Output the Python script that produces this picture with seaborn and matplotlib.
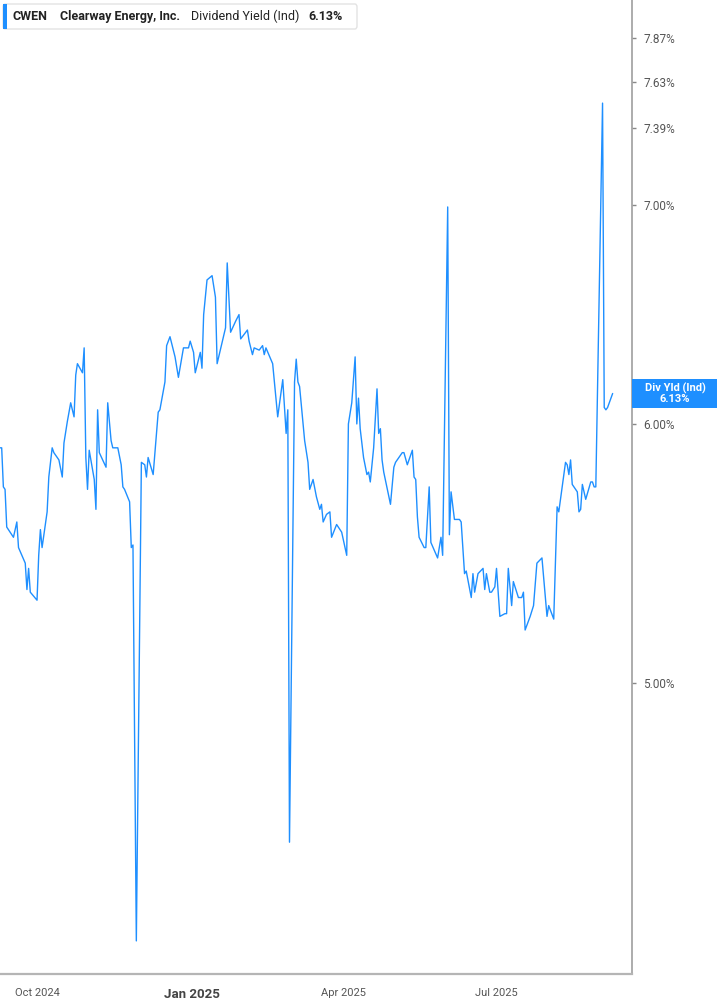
import pandas as pd
import seaborn as sns
import matplotlib.pyplot as plt
import matplotlib.patches as mpatches
from matplotlib.ticker import NullLocator

# DATA
dates = [
    "2024-09-09", "2024-09-10", "2024-09-11", "2024-09-12", "2024-09-13", "2024-09-17", "2024-09-19",
    "2024-09-20", "2024-09-24", "2024-09-25", "2024-09-26", "2024-09-27", "2024-10-01", "2024-10-02",
    "2024-10-03", "2024-10-04", "2024-10-07", "2024-10-08", "2024-10-10", "2024-10-11", "2024-10-14",
    "2024-10-16", "2024-10-17", "2024-10-19", "2024-10-21", "2024-10-23", "2024-10-24", "2024-10-25",
    "2024-10-28", "2024-10-29", "2024-10-30", "2024-10-31", "2024-11-01", "2024-11-04", "2024-11-05",
    "2024-11-06", "2024-11-07", "2024-11-11", "2024-11-12", "2024-11-14", "2024-11-15", "2024-11-18",
    "2024-11-20", "2024-11-21", "2024-11-22", "2024-11-25", "2024-11-26", "2024-11-27", "2024-11-29",
    "2024-12-02", "2024-12-04", "2024-12-05", "2024-12-06", "2024-12-09", "2024-12-12", "2024-12-13",
    "2024-12-16", "2024-12-17", "2024-12-19", "2024-12-22", "2024-12-24", "2024-12-27", "2024-12-30",
    "2024-12-31", "2025-01-02", "2025-01-03", "2025-01-06", "2025-01-07", "2025-01-08", "2025-01-10",
    "2025-01-13", "2025-01-15", "2025-01-16", "2025-01-21", "2025-01-22", "2025-01-24", "2025-01-27",
    "2025-01-29", "2025-01-30", "2025-02-03", "2025-02-04", "2025-02-06", "2025-02-07", "2025-02-10",
    "2025-02-12", "2025-02-13", "2025-02-14", "2025-02-18", "2025-02-21", "2025-02-24", "2025-02-26",
    "2025-02-27", "2025-02-28", "2025-03-03", "2025-03-04", "2025-03-05", "2025-03-06", "2025-03-09",
    "2025-03-11", "2025-03-12", "2025-03-14", "2025-03-16", "2025-03-18", "2025-03-19", "2025-03-20",
    "2025-03-22", "2025-03-24", "2025-03-25", "2025-03-28", "2025-03-29", "2025-03-31", "2025-04-03",
    "2025-04-04", "2025-04-06", "2025-04-08", "2025-04-09", "2025-04-10", "2025-04-11", "2025-04-13",
    "2025-04-15", "2025-04-16", "2025-04-17", "2025-04-19", "2025-04-21", "2025-04-22", "2025-04-23",
    "2025-04-24", "2025-04-25", "2025-04-29", "2025-05-01", "2025-05-02", "2025-05-05", "2025-05-06",
    "2025-05-07", "2025-05-09", "2025-05-12", "2025-05-13", "2025-05-14", "2025-05-15", "2025-05-16",
    "2025-05-19", "2025-05-20", "2025-05-22", "2025-05-23", "2025-05-27", "2025-05-29", "2025-05-30",
    "2025-06-02", "2025-06-03", "2025-06-04", "2025-06-06", "2025-06-09", "2025-06-10", "2025-06-12",
    "2025-06-13", "2025-06-16", "2025-06-17", "2025-06-18", "2025-06-20", "2025-06-23", "2025-06-24",
    "2025-06-25", "2025-06-27", "2025-06-28", "2025-06-30", "2025-07-01", "2025-07-03", "2025-07-06",
    "2025-07-07", "2025-07-08", "2025-07-10", "2025-07-11", "2025-07-14", "2025-07-16", "2025-07-17",
    "2025-07-18", "2025-07-21", "2025-07-23", "2025-07-25", "2025-07-28", "2025-07-31", "2025-08-01",
    "2025-08-04", "2025-08-06", "2025-08-07", "2025-08-11", "2025-08-12", "2025-08-13", "2025-08-14",
    "2025-08-15", "2025-08-18", "2025-08-19", "2025-08-20", "2025-08-21", "2025-08-23", "2025-08-26",
    "2025-08-27", "2025-08-28", "2025-08-29", "2025-09-02", "2025-09-03", "2025-09-04", "2025-09-05",
    "2025-09-08",
]
div_yield = [
    5.90, 5.90, 5.74, 5.73, 5.58, 5.54, 5.60,
    5.50, 5.44, 5.34, 5.42, 5.33, 5.30, 5.47,
    5.57, 5.50, 5.64, 5.78, 5.90, 5.88, 5.85,
    5.78, 5.92, 6.01, 6.09, 6.03, 6.21, 6.26,
    6.22, 6.33, 5.86, 5.73, 5.89, 5.77, 5.65,
    6.06, 5.88, 5.82, 6.09, 5.93, 5.90, 5.90,
    5.83, 5.74, 5.73, 5.68, 5.50, 5.51, 4.17,
    5.84, 5.83, 5.78, 5.86, 5.79, 6.05, 6.06,
    6.18, 6.34, 6.38, 6.29, 6.20, 6.33, 6.33,
    6.36, 6.31, 6.22, 6.31, 6.24, 6.48, 6.64,
    6.66, 6.56, 6.26, 6.42, 6.72, 6.40, 6.45,
    6.48, 6.37, 6.41, 6.36, 6.30, 6.33, 6.32,
    6.34, 6.30, 6.33, 6.26, 6.03, 6.19, 5.96,
    6.06, 4.47, 6.18, 6.28, 6.18, 6.16, 5.93,
    5.84, 5.73, 5.77, 5.70, 5.65, 5.67, 5.60,
    5.63, 5.64, 5.54, 5.59, 5.58, 5.56, 5.47,
    6.00, 6.09, 6.29, 6.00, 6.11, 5.98, 5.86,
    5.79, 5.80, 5.76, 5.90, 6.15, 5.96, 5.98,
    5.85, 5.80, 5.67, 5.82, 5.84, 5.87, 5.88,
    5.88, 5.83, 5.89, 5.78, 5.77, 5.62, 5.54,
    5.50, 5.50, 5.74, 5.52, 5.46, 5.54, 5.47,
    6.99, 5.55, 5.72, 5.61, 5.61, 5.60, 5.40,
    5.41, 5.31, 5.40, 5.33, 5.40, 5.42, 5.34,
    5.40, 5.33, 5.33, 5.35, 5.42, 5.24, 5.25,
    5.25, 5.42, 5.28, 5.37, 5.31, 5.31, 5.33,
    5.19, 5.24, 5.28, 5.44, 5.46, 5.24, 5.28,
    5.23, 5.66, 5.64, 5.84, 5.83, 5.79, 5.85,
    5.75, 5.72, 5.64, 5.65, 5.75, 5.69, 5.76,
    5.76, 5.74, 5.74, 7.52, 6.07, 6.06, 6.07,
    6.13,
]
ytick_values = [5.00, 6.00, 7.00, 7.39, 7.63, 7.87]
xtick_dates = ["2024-10-01", "2025-01-01", "2025-04-01", "2025-07-01"]
xtick_labels = ["Oct 2024", "Jan 2025", "Apr 2025", "Jul 2025"]
ticker = "CWEN"
company = "Clearway Energy, Inc."
metric = "Dividend Yield (Ind)"
last_value = div_yield[-1]

df = pd.DataFrame({"date": pd.to_datetime(dates), "yield": div_yield})

blue = "#1E8FFF"

sns.set_theme(style="white")
plt.rcParams['font.family'] = ['Roboto', 'DejaVu Sans']

fig = plt.figure(figsize=(7.17, 10.05), dpi=100)
ax = fig.add_axes([0, 31 / 1005, 632 / 717, 974 / 1005])

sns.lineplot(data=df, x="date", y="yield", color=blue, linewidth=1.0, ax=ax)

ax.set_yscale("log")
ax.set_ylim(4.074, 8.086)
ax.set_xlim(pd.Timestamp("2024-09-09"), pd.Timestamp("2025-09-19 12:00"))

ax.yaxis.tick_right()
ax.set_yticks(ytick_values)
ax.set_yticklabels([f"{v:.2f}%" for v in ytick_values])
ax.yaxis.set_minor_locator(NullLocator())
ax.set_xticks(pd.to_datetime(xtick_dates))
ax.set_xticklabels(xtick_labels)
ax.xaxis.set_minor_locator(NullLocator())
ax.set_xlabel("")
ax.set_ylabel("")

ax.tick_params(axis="y", direction="out", length=3, width=1, color="#888888",
               labelsize=8.5, labelcolor="#555555", pad=5)
ax.tick_params(axis="x", direction="out", length=4, width=1, color="#aaaaaa",
               labelsize=8, labelcolor="#555555", pad=6)
for lbl in ax.get_xticklabels():
    if lbl.get_text() == "Jan 2025":
        lbl.set_fontweight("bold")
        lbl.set_fontsize(9.5)
        lbl.set_color("#444444")

for side in ["left", "top"]:
    ax.spines[side].set_visible(False)
ax.spines["right"].set_color("#9e9e9e")
ax.spines["right"].set_linewidth(1.2)
ax.spines["bottom"].set_color("#b5b5b5")
ax.spines["bottom"].set_linewidth(1.6)

# header box
W, H = 717, 1005
box = mpatches.FancyBboxPatch((3 / W, 1 - 29 / H), 354 / W, 25 / H,
                              boxstyle="round,pad=0,rounding_size=0.003",
                              transform=fig.transFigure, facecolor="white",
                              edgecolor="#e3e3e3", linewidth=1.0, zorder=5)
fig.patches.append(box)
bar = mpatches.Rectangle((3 / W, 1 - 29 / H), 3.5 / W, 25 / H,
                         transform=fig.transFigure, facecolor=blue,
                         edgecolor="none", zorder=6)
fig.patches.append(bar)
ty = 1 - 16.5 / H
fig.text(13 / W, ty, ticker, fontsize=9, fontweight="bold", color="#222222", va="center", zorder=7)
fig.text(60 / W, ty, company, fontsize=9, fontweight="bold", color="#222222", va="center", zorder=7)
fig.text(191 / W, ty, metric, fontsize=9, color="#222222", va="center", zorder=7)
fig.text(308 / W, ty, f"{last_value:.2f}%", fontsize=9, fontweight="bold", color="#222222",
         va="center", zorder=7)

# last value label on the right axis
lab = mpatches.Rectangle((632 / W, 1 - 408 / H), 85 / W, 29 / H,
                         transform=fig.transFigure, facecolor=blue,
                         edgecolor="none", zorder=5)
fig.patches.append(lab)
fig.text(675 / W, 1 - 393.5 / H, f"Div Yld (Ind)\n{last_value:.2f}%", fontsize=8,
         fontweight="bold", color="white", ha="center", va="center",
         linespacing=1.0, zorder=7)

fig.savefig("out.png", dpi=100)
plt.close()
